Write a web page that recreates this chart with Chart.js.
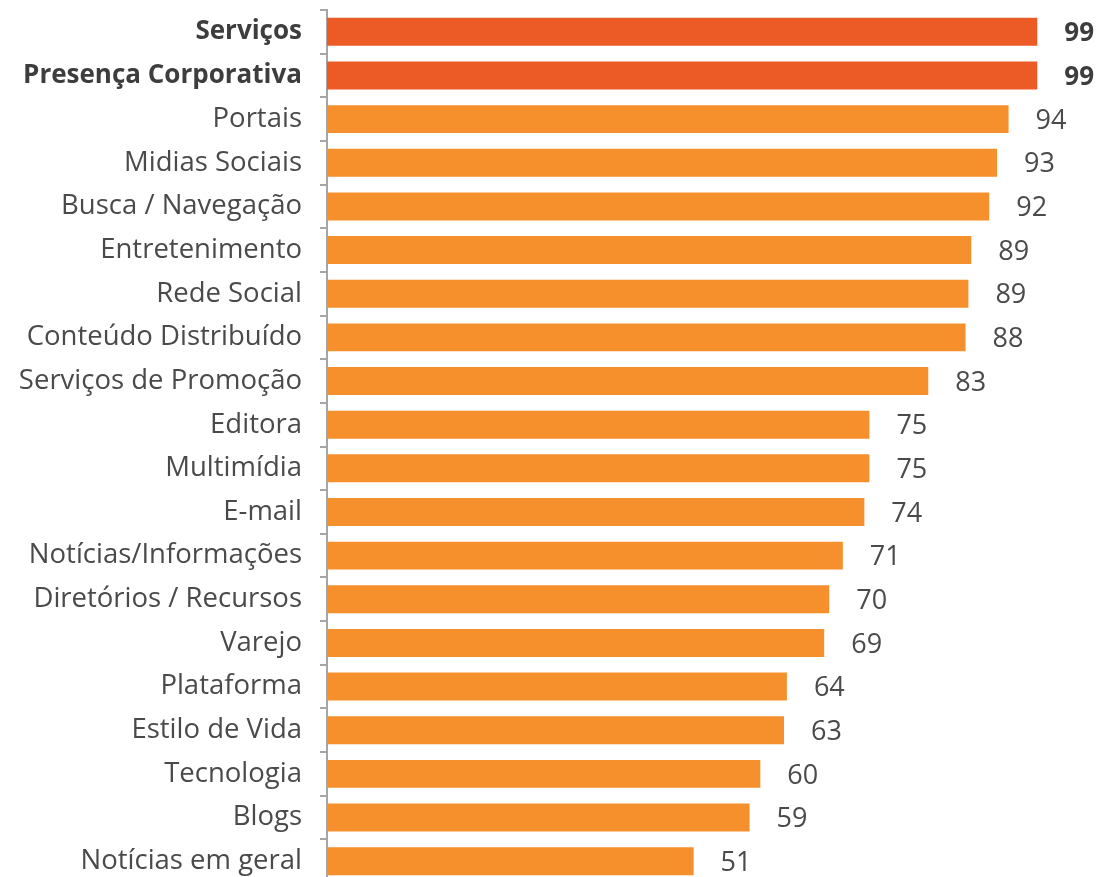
<!DOCTYPE html>
<html lang="pt">
<head>
    <meta charset="UTF-8">
    <title>Categorias</title>
    <script src="https://cdn.jsdelivr.net/npm/chart.js"></script>
    <style>
        html, body {
            margin: 0;
            padding: 0;
            background: #fff;
            overflow: hidden;
        }
        #wrap {
            position: relative;
            width: 1104px;
            height: 883px;
        }
    </style>
</head>
<body>
    <div id="wrap"><canvas id="myChart"></canvas></div>

    <script>
        // dados
        const categorias = [
            'Serviços', 'Presença Corporativa', 'Portais', 'Midias Sociais',
            'Busca / Navegação', 'Entretenimento', 'Rede Social', 'Conteúdo Distribuído',
            'Serviços de Promoção', 'Editora', 'Multimídia', 'E-mail',
            'Notícias/Informações', 'Diretórios / Recursos', 'Varejo', 'Plataforma',
            'Estilo de Vida', 'Tecnologia', 'Blogs', 'Notícias em geral'
        ];
        const valores = [99.0, 99.0, 95.0, 93.4, 92.3, 89.8, 89.4, 89.0, 83.8, 75.6,
                         75.6, 74.9, 71.9, 70.0, 69.3, 64.1, 63.7, 60.4, 58.9, 51.1];
        const rotulos = ['99', '99', '94', '93', '92', '89', '89', '88', '83', '75',
                         '75', '74', '71', '70', '69', '64', '63', '60', '59', '51'];
        const destaque = [true, true];

        const corDestaque = '#EC5A26';
        const corNormal = '#F5902C';
        const fonte = '"Open Sans", sans-serif';

        // rótulos de valor à direita das barras
        const valorPlugin = {
            id: 'valores',
            afterDatasetsDraw(chart) {
                const ctx = chart.ctx;
                const meta = chart.getDatasetMeta(0);
                ctx.save();
                ctx.textBaseline = 'middle';
                ctx.textAlign = 'left';
                meta.data.forEach((bar, i) => {
                    const forte = destaque[i];
                    ctx.font = (forte ? 'bold 26px ' : '27px ') + fonte;
                    ctx.fillStyle = forte ? '#3d3d3d' : '#4a4a4a';
                    ctx.fillText(rotulos[i], bar.x + 27, bar.y + 2);
                });
                ctx.restore();
            }
        };

        const ctx = document.getElementById('myChart').getContext('2d');
        const myChart = new Chart(ctx, {
            type: 'bar',
            data: {
                labels: categorias,
                datasets: [{
                    data: valores,
                    backgroundColor: categorias.map((c, i) => destaque[i] ? corDestaque : corNormal),
                    borderWidth: 0,
                    barPercentage: 0.64,
                    categoryPercentage: 1
                }]
            },
            plugins: [valorPlugin],
            options: {
                indexAxis: 'y',
                responsive: true,
                maintainAspectRatio: false,
                animation: false,
                layout: { padding: { top: 10, right: 0, bottom: 0, left: 0 } },
                plugins: {
                    legend: { display: false },
                    tooltip: { enabled: false }
                },
                scales: {
                    x: {
                        min: 0,
                        max: 108.3,
                        display: false
                    },
                    y: {
                        afterFit(scale) {
                            scale.width = 327;
                            scale.paddingTop = 0;
                            scale.paddingBottom = 0;
                        },
                        border: { display: true, color: '#a6a6a6', width: 2 },
                        grid: {
                            drawOnChartArea: false,
                            drawTicks: true,
                            tickLength: 7,
                            color: '#a6a6a6',
                            lineWidth: 2,
                            offset: true
                        },
                        ticks: {
                            padding: 18,
                            color: ctx => destaque[ctx.index] ? '#3d3d3d' : '#4a4a4a',
                            font: ctx => ({
                                family: fonte,
                                size: destaque[ctx.index] ? 26 : 27.5,
                                weight: destaque[ctx.index] ? 'bold' : 'normal'
                            })
                        }
                    }
                }
            }
        });
    </script>
</body>
</html>
